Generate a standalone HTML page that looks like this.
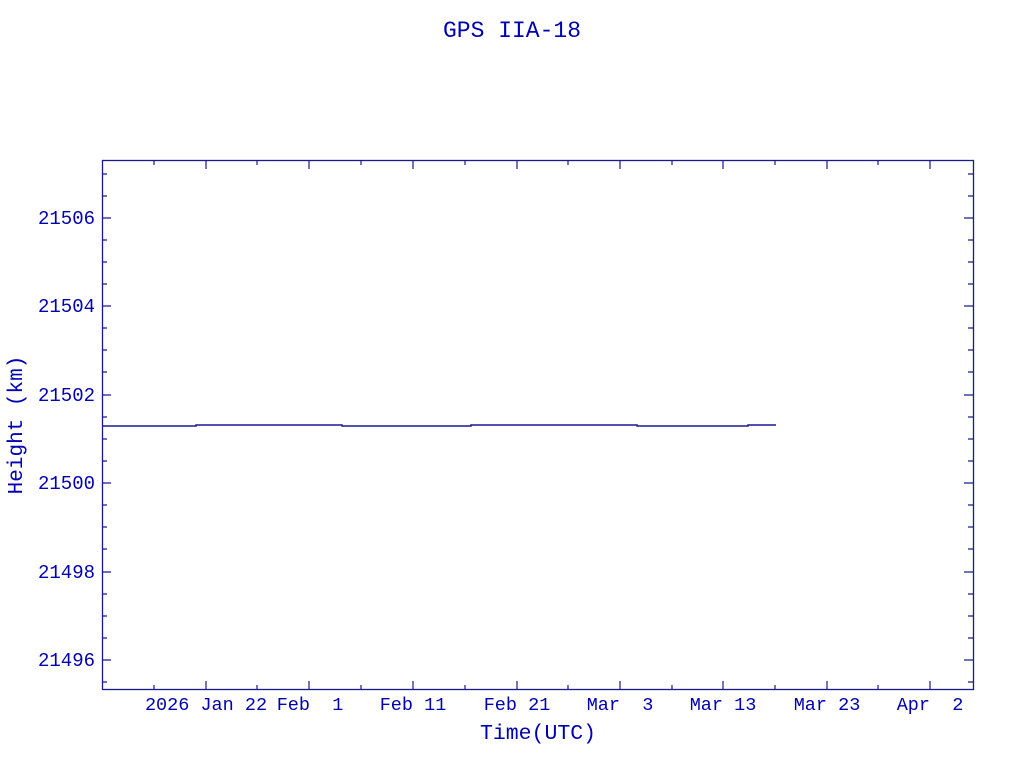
<!DOCTYPE html>
<html><head><meta charset="utf-8"><style>
body{margin:0;background:#fff;width:1024px;height:768px;overflow:hidden}
svg text{font-family:"Liberation Mono",monospace;fill:#0000b0;white-space:pre}
</style></head><body>
<svg width="1024" height="768" xmlns="http://www.w3.org/2000/svg" xml:space="preserve">
<text x="512" y="37" font-size="23" text-anchor="middle">GPS IIA-18</text>
<rect x="102.5" y="160.5" width="871" height="529" fill="none" stroke="#1a1a90" stroke-width="1.3"/>
<g stroke="#1a1a90" stroke-width="1.2">
<path d="
M102 218h9M973 218h-9M102 306h9M973 306h-9M102 395h9M973 395h-9M102 483h9M973 483h-9M102 572h9M973 572h-9M102 660h9M973 660h-9
M102 174h5M973 174h-5M102 196h5M973 196h-5M102 240h5M973 240h-5M102 262h5M973 262h-5M102 284h5M973 284h-5
M102 328h5M973 328h-5M102 350h5M973 350h-5M102 372h5M973 372h-5M102 417h5M973 417h-5M102 439h5M973 439h-5M102 461h5M973 461h-5
M102 505h5M973 505h-5M102 527h5M973 527h-5M102 549h5M973 549h-5M102 594h5M973 594h-5M102 616h5M973 616h-5M102 638h5M973 638h-5M102 682h5M973 682h-5
M206 690v-9M206 160v9M309 690v-9M309 160v9M413 690v-9M413 160v9M517 690v-9M517 160v9M620 690v-9M620 160v9M723 690v-9M723 160v9M827 690v-9M827 160v9M930 690v-9M930 160v9
M154 690v-5M154 160v5M257 690v-5M257 160v5M361 690v-5M361 160v5M465 690v-5M465 160v5M568 690v-5M568 160v5M672 690v-5M672 160v5M775 690v-5M775 160v5M878 690v-5M878 160v5"/>
</g>
<path d="M102 426H196V425H342V426H471V425H637V426H748V425H776" fill="none" stroke="#1a1a90" stroke-width="1.5"/>
<g font-size="19" text-anchor="end">
<text x="95" y="224">21506</text><text x="95" y="312">21504</text><text x="95" y="401">21502</text>
<text x="95" y="489">21500</text><text x="95" y="578">21498</text><text x="95" y="666">21496</text>
</g>
<g font-size="18.5" text-anchor="middle">
<text x="206" y="710">2026 Jan 22</text><text x="310" y="710">Feb  1</text><text x="413" y="710">Feb 11</text>
<text x="517" y="710">Feb 21</text><text x="620" y="710">Mar  3</text><text x="723" y="710">Mar 13</text>
<text x="827" y="710">Mar 23</text><text x="930" y="710">Apr  2</text>
</g>
<text x="538" y="739" font-size="21.5" text-anchor="middle">Time(UTC)</text>
<text transform="translate(22,425) rotate(-90)" font-size="21" text-anchor="middle">Height (km)</text>
</svg>
</body></html>
